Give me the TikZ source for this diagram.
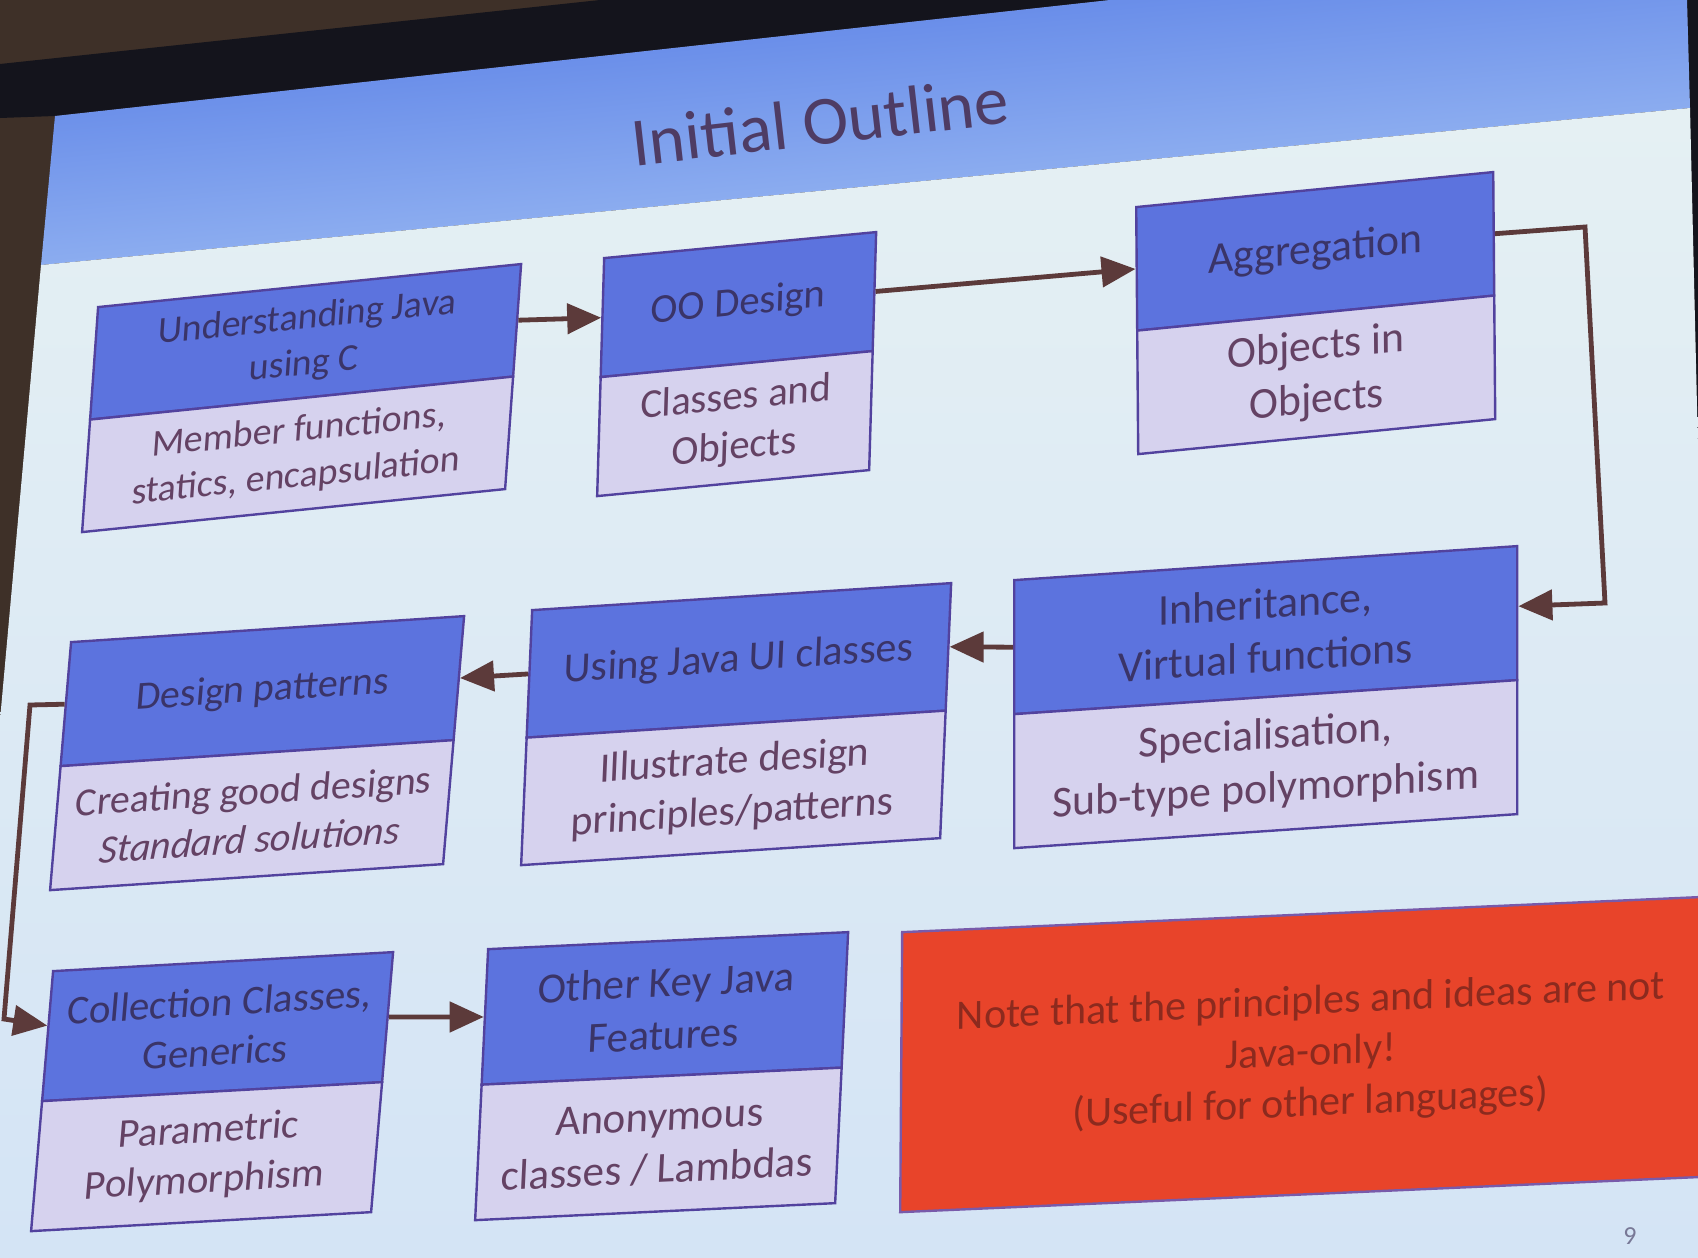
\documentclass[tikz,border=0pt]{standalone}
\usepackage{fontspec}
\setmainfont{Carlito}
\usetikzlibrary{arrows.meta,calc}

\definecolor{headfill}{RGB}{92,115,222}
\definecolor{bodyfill}{RGB}{214,210,238}
\definecolor{boxline}{RGB}{82,66,158}
\definecolor{headtext}{RGB}{58,52,104}
\definecolor{bodytext}{RGB}{100,66,100}
\definecolor{linkc}{RGB}{92,58,58}
\definecolor{notefill}{RGB}{232,68,42}
\definecolor{noteline}{RGB}{120,90,170}
\definecolor{notetext}{RGB}{140,42,30}
\definecolor{slidebg}{RGB}{229,240,243}
\definecolor{slidebg2}{RGB}{212,228,245}
\definecolor{bandtop}{RGB}{88,126,230}
\definecolor{bandbot}{RGB}{168,198,245}
\definecolor{titletext}{RGB}{78,60,100}
\definecolor{pagec}{RGB}{120,120,150}
\definecolor{roomdark}{RGB}{62,48,40}
\definecolor{rimdark}{RGB}{20,20,28}

% corners of a slanted frame: top-left, top-right, bottom-left (x, y downwards)
\def\getcorners#1,#2,#3,#4,#5,#6\relax{%
  \def\ctlx{#1}\def\ctly{#2}\def\ctrx{#3}\def\ctry{#4}\def\cblx{#5}\def\cbly{#6}}
\newcommand\setframe[1]{%
  \getcorners#1\relax
  \pgfmathsetmacro\fw{100*veclen((\ctrx-\ctlx)/100,(\ctry-\ctly)/100)}%
  \pgfmathsetmacro\fh{100*veclen((\ctlx-\cblx)/100,(\ctly-\cbly)/100)}%
  \pgfmathsetmacro\fua{(\ctrx-\ctlx)/\fw}%
  \pgfmathsetmacro\fub{(\ctly-\ctry)/\fw}%
  \pgfmathsetmacro\fva{(\ctlx-\cblx)/\fh}%
  \pgfmathsetmacro\fvb{(\cbly-\ctly)/\fh}%
}
% draw content in the local frame of a slanted box (origin at its top-left corner)
\newcommand\inframe[2]{%
  \setframe{#1}%
  \begin{scope}[cm={\fua,\fub,\fva,\fvb,(\ctlx,-\ctly)},transform shape]
    #2
  \end{scope}}
% a two-part outline box: name, corners, font size, header, body
\newcommand\outlinebox[5]{%
  \pgfmathsetmacro\fsk{1.22*#3}%
  \inframe{#2}{%
    \node[headbox, font=\fontsize{#3pt}{\fsk pt}\selectfont,
          minimum width=\fw*0.5pt, minimum height=\fh*0.25pt,
          anchor=north west] (#1) at (0,0) {#4};
    \node[bodybox, font=\fontsize{#3pt}{\fsk pt}\selectfont,
          minimum width=\fw*0.5pt, minimum height=\fh*0.25pt,
          anchor=north west] (#1-b) at (0,-\fh/2) {#5};
  }}

\begin{document}
\begin{tikzpicture}[x=0.5pt,y=0.5pt,
  headbox/.style={draw=boxline, line width=1.2pt, fill=headfill, text=headtext,
                  align=center, inner sep=2pt},
  bodybox/.style={draw=boxline, line width=1.2pt, fill=bodyfill, text=bodytext,
                  align=center, inner sep=2pt},
  notebox/.style={draw=noteline, line width=1.2pt, fill=notefill, text=notetext,
                  align=center, inner sep=2pt,
                  font=\fontsize{21pt}{25.5pt}\selectfont},
  link/.style={draw=linkc, line width=2.4pt, -{Triangle[length=17pt,width=15pt]}},
  titlestyle/.style={text=titletext, font=\fontsize{34.5pt}{40pt}\selectfont},
  pagestyle/.style={text=pagec, font=\fontsize{13pt}{15pt}\selectfont}]

\useasboundingbox (0,0) rectangle (1698,-1258);
\clip (0,0) rectangle (1698,-1258);

% room around the screen
\fill[roomdark] (0,0) rectangle (1698,-1258);
\fill[rimdark] (0,-64) -- (600,0) -- (1110,0) -- (55,-116) -- (0,-118) -- cycle;
\fill[rimdark] (1687,0) -- (1698,0) -- (1698,-450) -- cycle;

% slide: title band and body
\shade[top color=bandtop, bottom color=bandbot, shading angle=5.4]
  (55,-116) -- (1110,0) -- (1687,0) -- (1690,-108) -- (41,-265) -- cycle;
\shade[top color=slidebg, bottom color=slidebg2]
  (41,-265) -- (1690,-108) -- (1698,-450) -- (1698,-1258) -- (0,-1258) -- (0,-720) -- cycle;

\node[titlestyle, rotate=6.5] (title) at (820,-121) {Initial Outline};

% outline boxes
\outlinebox{understand}{97,306,520,263,81,531}{19}{Understanding Java\\using C}{Member functions,\\statics, encapsulation}
\outlinebox{oodesign}{603,257,875,231,596,495}{20.5}{OO Design}{Classes and\\Objects}
\outlinebox{aggregation}{1135,206,1492,171,1137,453}{22}{Aggregation}{Objects in\\Objects}
\outlinebox{inherit}{1013,579,1516,545,1013,847}{22}{Inheritance,\\Virtual functions}{Specialisation,\\Sub-type polymorphism}
\outlinebox{javaui}{531,609,950,582,520,864}{21}{Using Java UI classes}{Illustrate design\\principles/patterns}
\outlinebox{patterns}{70,641,463,615,49,889}{20}{Design patterns}{Creating good designs\\\textit{Standard solutions}}
\outlinebox{collect}{52,970,392,951,30,1230}{20.5}{Collection Classes,\\Generics}{Parametric\\Polymorphism}
\outlinebox{otherjava}{487,948,847,931,474,1219}{21.5}{Other Key Java\\Features}{Anonymous\\classes / Lambdas}

% note
\inframe{901,931,1720,895,899,1211}{%
  \node[notebox, minimum width=\fw*0.5pt, minimum height=\fh*0.5pt,
        anchor=north west] (note) at (0,0)
    {Note that the principles and ideas are not\\Java-only!\\(Useful for other languages)};
}

\node[pagestyle] (pagenum) at (1630,-1236) {9};

% connectors
\coordinate (c1) at (1585,-227);
\coordinate (c2) at (1605,-603);
\coordinate (c3) at (30,-705);
\coordinate (c4) at (4,-1019);
\draw[link] (understand.east) -- (oodesign.west);
\draw[link] (oodesign.east) -- (aggregation.west);
\draw[link] (aggregation.east) -- (c1) -- (c2)
  -- ($(inherit.north east)!0.45!(inherit.south east)$);
\draw[link] (inherit.west) -- (javaui.east);
\draw[link] (javaui.west) -- (patterns.east);
\draw[link] (patterns.west) -- (c3) -- (c4)
  -- ($(collect.north west)!0.42!(collect.south west)$);
\draw[link] (collect.east) -- (otherjava.west);
\end{tikzpicture}
\end{document}
